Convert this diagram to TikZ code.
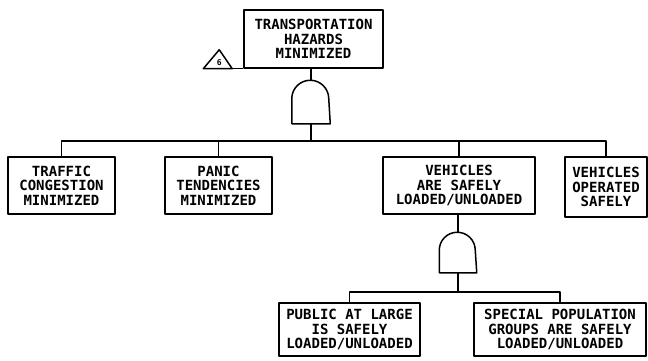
\documentclass[tikz,border=0pt]{standalone}
\usepackage{fontspec}
\newfontfamily\plotfont{DejaVu Sans Mono}
\usetikzlibrary{calc}
\begin{document}
\begin{tikzpicture}[x=1pt,y=-1pt,
  line width=1.5pt, line join=round,
  event/.style={draw, rectangle, inner sep=0pt, align=center,
    font=\plotfont\bfseries\fontsize{14}{14.5}\selectfont},
  andgate/.style={inner sep=0pt, draw=none}]
\useasboundingbox (0,0) rectangle (648,361);

% top event
\node[event, minimum width=139pt, minimum height=58pt] (top) at (313.5,39)
  {TRANSPORTATION\\HAZARDS\\MINIMIZED};

% first level events
\node[event, minimum width=107pt, minimum height=57pt] (b1) at (61.5,185.5)
  {TRAFFIC\\CONGESTION\\MINIMIZED};
\node[event, minimum width=107pt, minimum height=57pt] (b2) at (218.5,185.5)
  {PANIC\\TENDENCIES\\MINIMIZED};
\node[event, minimum width=152pt, minimum height=57pt] (b3) at (459,185.5)
  {VEHICLES\\ARE SAFELY\\LOADED/UNLOADED};
\node[event, minimum width=82pt, minimum height=60pt] (b4) at (606,187)
  {VEHICLES\\OPERATED\\SAFELY};

% second level events
\node[event, minimum width=141pt, minimum height=53pt] (b5) at (349.5,329.5)
  {PUBLIC AT LARGE\\IS SAFELY\\LOADED/UNLOADED};
\node[event, minimum width=172pt, minimum height=53pt] (b6) at (560,329.5)
  {SPECIAL POPULATION\\GROUPS ARE SAFELY\\LOADED/UNLOADED};

% AND gates: flat base, straight sides, round top
\node[andgate, minimum width=37pt, minimum height=42pt] (g1) at (311,102) {};
\node[andgate, minimum width=36pt, minimum height=39pt] (g2) at (458,252.5) {};
\draw (g1.south west) -- ($(g1.north west)+(0,18.5)$)
  arc[start angle=180, end angle=0, radius=18.5pt]
  -- (g1.south east) -- cycle;
\draw (g2.south west) -- ($(g2.north west)+(0,18)$)
  arc[start angle=180, end angle=0, radius=18pt]
  -- (g2.south east) -- cycle;

% transfer triangle beside the top event
\draw ($(top.south west)+(-40,0)$) coordinate (trl)
  -- ($(top.south west)+(-24,-19)$) coordinate (tra)
  -- ($(top.south west)+(-11,0)$) coordinate (trr) -- cycle;
\draw (trr) -- (top.south west);
\node[inner sep=0pt, font=\plotfont\bfseries\fontsize{8}{8}\selectfont]
  (trlabel) at ($(top.south west)+(-24,-6)$) {6};

% connectors
\coordinate (bar1) at (311,141);
\coordinate (bar2) at (458,292);
\draw (g1.north) -- (g1.north |- top.south);
\draw (g1.south) -- (bar1);
\draw (b1.north) |- (b4.north |- bar1) -- (b4.north);
\draw (b2.north) -- (b2.north |- bar1);
\draw (b3.north) -- (b3.north |- bar1);

\draw (g2.north) -- (g2.north |- b3.south);
\draw (g2.south) -- (bar2);
\draw (b5.north) |- (b6.north |- bar2) -- (b6.north);
\end{tikzpicture}
\end{document}
